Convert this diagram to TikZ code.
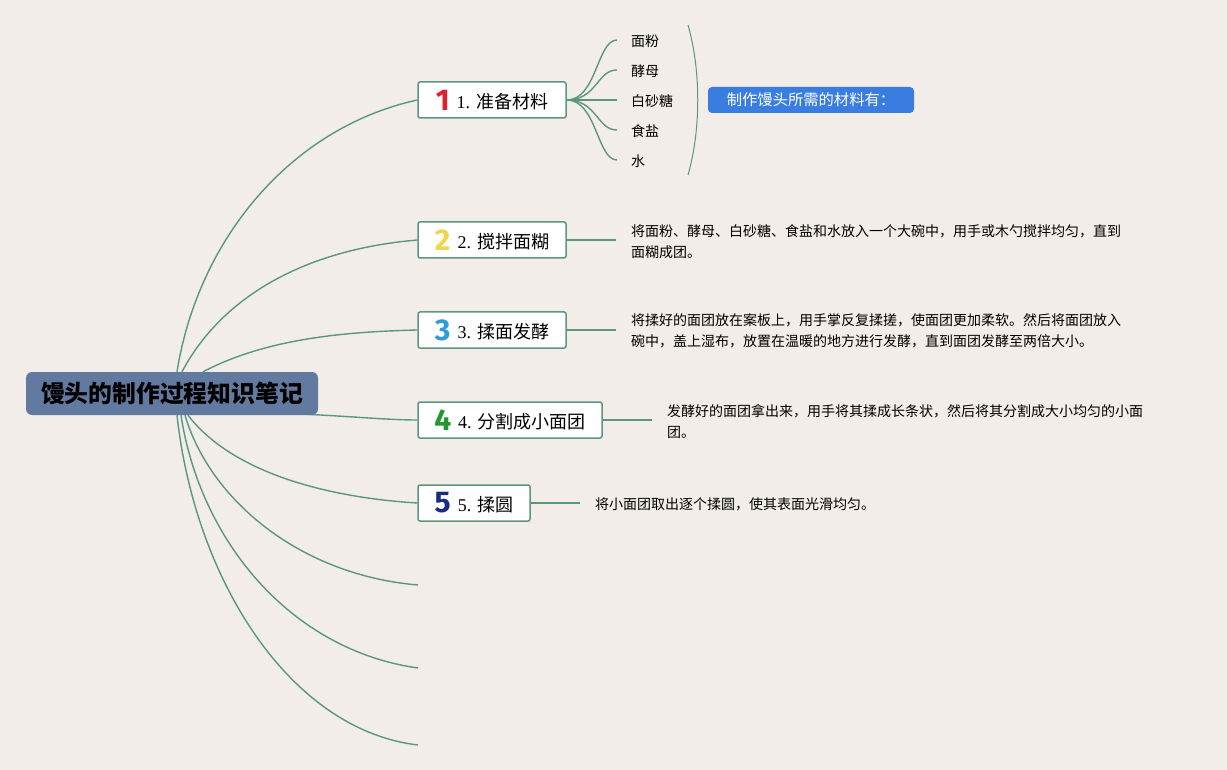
\documentclass[tikz,border=0pt]{standalone}
\usepackage{fontspec}
\setmainfont{Liberation Serif}
\newfontfamily\cjk{Noto Sans CJK SC}
\newfontfamily\digitfont{Fira Sans}
\usetikzlibrary{calc}
\definecolor{bgc}{RGB}{242,237,232}
\definecolor{conn}{RGB}{90,150,130}
\definecolor{cfill}{RGB}{98,121,160}
\definecolor{sumfill}{RGB}{58,125,225}
\definecolor{numred}{RGB}{224,32,46}
\definecolor{numyellow}{RGB}{242,213,74}
\definecolor{numblue}{RGB}{45,156,219}
\definecolor{numgreen}{RGB}{34,153,46}
\definecolor{numnavy}{RGB}{27,44,124}
\newcommand\numicon[2]{{\digitfont\bfseries\fontsize{30}{30}\selectfont\color{#1}#2}}
\newcommand\steptext[1]{\raisebox{1.5pt}{#1}}
\pgfdeclarelayer{bgzero}
\pgfdeclarelayer{bgone}
\pgfsetlayers{bgzero,bgone,main}
\tikzset{
  connline/.style={draw=conn, line width=1.4pt},
  centernode/.style={fill=cfill, rounded corners=6pt, minimum width=292pt, minimum height=43pt, inner sep=0pt, font=\cjk\bfseries\fontsize{23.8}{23.8}\selectfont},
  stepbox/.style={draw=conn, line width=1.5pt, fill=white, rounded corners=2pt, minimum height=36pt, inner sep=0pt, font=\fontsize{18}{18}\selectfont},
  leaf/.style={anchor=west, inner sep=4pt, font=\cjk\fontsize{14}{14}\selectfont},
  detail/.style={anchor=west, inner sep=0pt, align=left, font=\cjk\fontsize{14}{21}\selectfont},
  summary/.style={fill=sumfill, rounded corners=4pt, minimum width=206pt, minimum height=26pt, inner sep=0pt, text=white, font=\cjk\fontsize{15.3}{15.3}\selectfont}
}
\begin{document}
\begin{tikzpicture}[x=1pt,y=-1pt]
\begin{pgfonlayer}{bgzero}
\fill[bgc] (0,0) rectangle (1227,770);
\end{pgfonlayer}
\useasboundingbox (0,0) rectangle (1227,770);

% center
\node[centernode] (c) at (172,393.5) {馒头的制作过程知识笔记};

% steps
\node[stepbox, minimum width=148pt] (n1) at (492,100) {\numicon{numred}{1}\hspace{7pt}\steptext{1. {\cjk 准备材料}}};
\node[stepbox, minimum width=148pt] (n2) at (492,240) {\numicon{numyellow}{2}\hspace{7pt}\steptext{2. {\cjk 搅拌面糊}}};
\node[stepbox, minimum width=148pt] (n3) at (492,330) {\numicon{numblue}{3}\hspace{7pt}\steptext{3. {\cjk 揉面发酵}}};
\node[stepbox, minimum width=184pt] (n4) at (510,420) {\numicon{numgreen}{4}\hspace{7pt}\steptext{4. {\cjk 分割成小面团}}};
\node[stepbox, minimum width=112pt] (n5) at (474,503) {\numicon{numnavy}{5}\hspace{7pt}\steptext{5. {\cjk 揉圆}}};

% free ends of the empty branches
\coordinate (e6) at (418,585);
\coordinate (e7) at (418,668);
\coordinate (e8) at (418,745);

% start points on the center node
\coordinate (o1) at ($(c.north)+(5,0)$);
\coordinate (o2) at ($(c.north)+(10,0)$);
\coordinate (o3) at ($(c.north)+(31,0)$);
\coordinate (o4) at ($(c.south east)+(-13,-1)$);
\coordinate (o5) at ($(c.south)+(16,0)$);
\coordinate (o6) at ($(c.south)+(13,0)$);
\coordinate (o7) at ($(c.south)+(9,0)$);
\coordinate (o8) at ($(c.south)+(5,0)$);

\begin{pgfonlayer}{bgone}
\draw[connline] (o1) .. controls (198,240) and (290,128) .. (n1.west);
\draw[connline] (o2) .. controls (220,300) and (300,250) .. (n2.west);
\draw[connline] (o3) .. controls (260,342) and (330,332) .. (n3.west);
\draw[connline] (o4) .. controls (360,417) and (390,420) .. (n4.west);
\draw[connline] (o5) .. controls (230,470) and (320,497) .. (n5.west);
\draw[connline] (o6) .. controls (210,500) and (300,575) .. (e6);
\draw[connline] (o7) .. controls (200,540) and (290,650) .. (e7);
\draw[connline] (o8) .. controls (195,580) and (290,730) .. (e8);
\end{pgfonlayer}

% materials
\node[leaf] (m1) at (627,41) {面粉};
\node[leaf] (m2) at (627,71) {酵母};
\node[leaf] (m3) at (627,101) {白砂糖};
\node[leaf] (m4) at (627,131) {食盐};
\node[leaf] (m5) at (627,161) {水};
\foreach \m in {m1,m2,m3,m4,m5}{
  \draw[connline] (n1.east) .. controls +(30,0) and +(-20,0) .. ($(\m.west)+(-10,-1)$);
}

% brace
\coordinate (b1) at (688,25);
\coordinate (b2) at (688,175);
\draw[conn, line width=1pt] (b1) .. controls (701,70) and (701,130) .. (b2);

\node[summary] (s) at (811,100) {制作馒头所需的材料有：};

% details
\node[detail] (t2) at (631,241.5) {将面粉、酵母、白砂糖、食盐和水放入一个大碗中，用手或木勺搅拌均匀，直到\\面糊成团。};
\node[detail] (t3) at (631,331) {将揉好的面团放在案板上，用手掌反复揉搓，使面团更加柔软。然后将面团放入\\碗中，盖上湿布，放置在温暖的地方进行发酵，直到面团发酵至两倍大小。};
\node[detail] (t4) at (667,421.5) {发酵好的面团拿出来，用手将其揉成长条状，然后将其分割成大小均匀的小面\\团。};
\node[detail] (t5) at (595,504) {将小面团取出逐个揉圆，使其表面光滑均匀。};

\draw[connline] (n2.east) -- ($(n2.east -| t2.west)+(-15,0)$);
\draw[connline] (n3.east) -- ($(n3.east -| t3.west)+(-15,0)$);
\draw[connline] (n4.east) -- ($(n4.east -| t4.west)+(-15,0)$);
\draw[connline] (n5.east) -- ($(n5.east -| t5.west)+(-15,0)$);
\end{tikzpicture}
\end{document}
